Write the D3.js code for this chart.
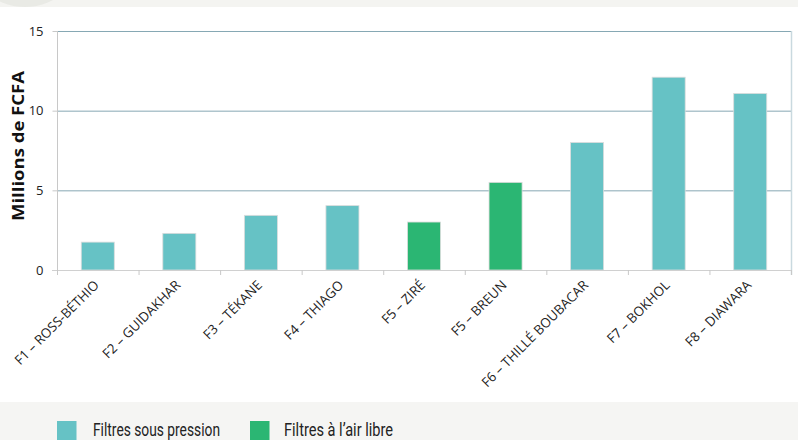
<!DOCTYPE html>
<html>
<head>
<meta charset="utf-8">
<script src="https://cdn.jsdelivr.net/npm/d3@7"></script>
<style>
  html, body { margin: 0; padding: 0; background: #ffffff; }
  svg { display: block; }
</style>
</head>
<body>
<svg id="chart" width="798" height="440"></svg>
<script>
const categories = ["F1 – ROSS-BÉTHIO", "F2 – GUIDAKHAR", "F3 – TÉKANE", "F4 – THIAGO", "F5 – ZIRÉ", "F5 – BREUN", "F6 – THILLÉ BOUBACAR", "F7 – BOKHOL", "F8 – DIAWARA"];
const values = [1.75, 2.3, 3.43, 4.04, 3.01, 5.5, 8.0, 12.1, 11.08];
const types = ["pression", "pression", "pression", "pression", "air", "air", "pression", "pression", "pression"];
const yTicks = [0, 5, 10, 15];
const legendLabels = ["Filtres sous pression", "Filtres à l’air libre"];
const yLabel = "Millions de FCFA";

const colors = { pression: "#66c2c5", air: "#2bb673" };

const svg = d3.select("#chart");
const W = 798, H = 440;
const mLeft = 57, mRight = 791, mTop = 31, mBottom = 270;

// top band with circle
const defs = svg.append("defs");
defs.append("clipPath").attr("id", "bandclip").append("rect").attr("x", 0).attr("y", 0).attr("width", W).attr("height", 7);
svg.append("rect").attr("x", 0).attr("y", 0).attr("width", W).attr("height", 7).attr("fill", "#f4f4f1");
svg.append("circle").attr("cx", 25).attr("cy", -52.5).attr("r", 59.5).attr("fill", "#e9eae5").attr("clip-path", "url(#bandclip)");

// legend background
svg.append("rect").attr("x", 0).attr("y", 402).attr("width", W).attr("height", H - 402).attr("fill", "#f5f5f3");

const x = d3.scaleBand().domain(categories).range([mLeft, mRight]).paddingInner(0.595).paddingOuter(0.2975);
const y = d3.scaleLinear().domain([0, 15]).range([mBottom, mTop]);
const step = x.step();

// gridlines
svg.append("g").selectAll("line").data(yTicks.filter(d => d > 0)).join("line")
  .attr("x1", mLeft).attr("x2", mRight)
  .attr("y1", d => y(d) + 0.5).attr("y2", d => y(d) + 0.5)
  .attr("stroke", "#86a8b4").attr("stroke-width", 1);

// right border
svg.append("line").attr("x1", mRight + 0.5).attr("x2", mRight + 0.5).attr("y1", mTop).attr("y2", mBottom + 5)
  .attr("stroke", "#c9d9df").attr("stroke-width", 1.5);

// y axis
const yAxis = d3.axisLeft(y).tickValues(yTicks).tickSize(5).tickPadding(9);
const gy = svg.append("g").attr("transform", `translate(${mLeft + 0.5},0)`).call(yAxis);
gy.select(".domain").attr("stroke", "#c8c8c8").attr("d", `M0,${mTop}V${mBottom + 5}`);
gy.selectAll(".tick line").attr("stroke", "#c8c8c8");
gy.selectAll(".tick text").attr("font-family", "'Open Sans', sans-serif").attr("font-size", 13).attr("fill", "#222");

// bars
svg.append("g").selectAll("rect").data(categories).join("rect")
  .attr("x", d => x(d))
  .attr("y", (d, i) => y(values[i]))
  .attr("width", x.bandwidth())
  .attr("height", (d, i) => y(0) - y(values[i]))
  .attr("fill", (d, i) => colors[types[i]])
  .attr("stroke", "#dcdcdc").attr("stroke-width", 0.8);

// x axis baseline and ticks
svg.append("line").attr("x1", mLeft - 5).attr("x2", mRight).attr("y1", mBottom + 0.5).attr("y2", mBottom + 0.5)
  .attr("stroke", "#d0d0d0").attr("stroke-width", 1.2);
svg.append("g").selectAll("line").data(d3.range(categories.length + 1)).join("line")
  .attr("x1", i => mLeft + i * step + 0.5).attr("x2", i => mLeft + i * step + 0.5)
  .attr("y1", mBottom).attr("y2", mBottom + 5)
  .attr("stroke", "#c8c8c8");

// x labels
svg.append("g").selectAll("text").data(categories).join("text")
  .attr("transform", d => `translate(${x(d) + x.bandwidth() / 2 + 2},${mBottom + 16}) rotate(-45)`)
  .attr("text-anchor", "end")
  .attr("font-family", "'Open Sans', sans-serif")
  .attr("font-size", 13.3)
  .attr("fill", "#222")
  .text(d => d);

// y label
svg.append("text")
  .attr("transform", `translate(24,146) rotate(-90)`)
  .attr("text-anchor", "middle")
  .attr("font-family", "'Open Sans', sans-serif")
  .attr("font-weight", "bold")
  .attr("font-size", 16)
  .attr("fill", "#111")
  .attr("textLength", 150).attr("lengthAdjust", "spacingAndGlyphs")
  .text(yLabel);

// legend
const legendX = [57, 250];
const legendTextX = [93, 284];
const legendTextW = [127, 109];
const legendColors = [colors.pression, colors.air];
legendLabels.forEach((lab, i) => {
  svg.append("rect").attr("x", legendX[i]).attr("y", 421).attr("width", 19.5).attr("height", 25).attr("fill", legendColors[i]);
  svg.append("text").attr("x", legendTextX[i]).attr("y", 436)
    .attr("font-family", "'Liberation Sans Narrow', 'Roboto', sans-serif")
    .attr("font-size", 18)
    .attr("fill", "#222")
    .attr("textLength", legendTextW[i]).attr("lengthAdjust", "spacingAndGlyphs")
    .text(lab);
});
</script>
</body>
</html>
